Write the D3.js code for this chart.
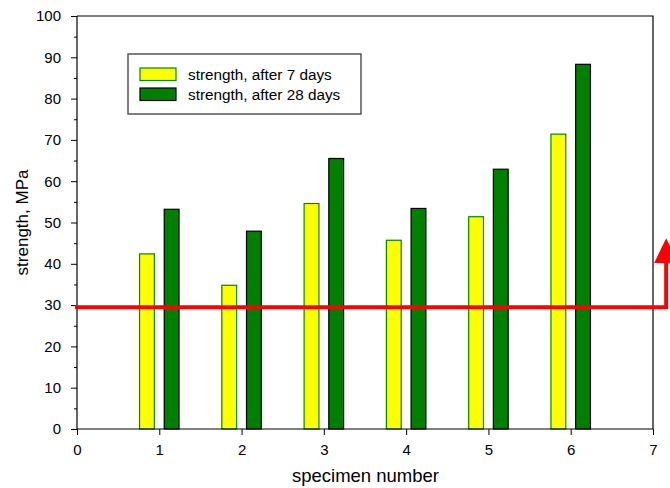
<!DOCTYPE html>
<html>
<head>
<meta charset="utf-8">
<script src="https://cdn.jsdelivr.net/npm/d3@7"></script>
<style>
  html, body { margin: 0; padding: 0; background: #fff; }
  svg { display: block; font-family: "Liberation Sans", Arial, sans-serif; }
</style>
</head>
<body>
<svg id="chart" width="670" height="488"></svg>
<script>
// Specimens and compressive strength (MPa)
const specimens = [1, 2, 3, 4, 5, 6];
const strength7 = [42.4, 34.8, 54.6, 45.7, 51.4, 71.4];
const strength28 = [53.2, 47.9, 65.5, 53.4, 62.9, 88.3];
const seriesNames = ["strength, after 7 days", "strength, after 28 days"];
const xTicks = [0, 1, 2, 3, 4, 5, 6, 7];
const yTicks = [0, 10, 20, 30, 40, 50, 60, 70, 80, 90, 100];
const yMinorTicks = [5, 15, 25, 35, 45, 55, 65, 75, 85, 95];
// Required strength level and the arrow pointing upward from it
const requiredStrength = 29.5;
const arrowX = 7.16;
const arrowShaftTop = 41;
const arrowBase = 40.2;
const arrowTip = 46.2;

const svg = d3.select("#chart");
const W = 670, H = 488;
const margin = { left: 77, right: 17, top: 16, bottom: 59 };

const x = d3.scaleLinear().domain([0, 7]).range([margin.left, W - margin.right]);
const y = d3.scaleLinear().domain([0, 100]).range([H - margin.bottom, margin.top]);

const barW = 0.18;   // bar width in specimen units
const offset = 0.15; // half distance between the two bars of a specimen

const colors = {
  s7: { fill: "#ffff00", stroke: "#008a00" },
  s28: { fill: "#008000", stroke: "#000000" }
};

// Frame (top and right)
svg.append("path")
  .attr("d", `M${x(0)},${y(100)}H${x(7)}V${y(0)}`)
  .attr("fill", "none").attr("stroke", "#000").attr("stroke-width", 1.2);

// Bars
const g = svg.append("g");
g.selectAll("rect.s7").data(specimens).join("rect")
  .attr("class", "s7")
  .attr("x", (d) => x(d - offset - barW / 2))
  .attr("width", x(barW) - x(0))
  .attr("y", (d, i) => y(strength7[i]))
  .attr("height", (d, i) => y(0) - y(strength7[i]))
  .attr("fill", colors.s7.fill).attr("stroke", colors.s7.stroke).attr("stroke-width", 1.2);
g.selectAll("rect.s28").data(specimens).join("rect")
  .attr("class", "s28")
  .attr("x", (d) => x(d + offset - barW / 2))
  .attr("width", x(barW) - x(0))
  .attr("y", (d, i) => y(strength28[i]))
  .attr("height", (d, i) => y(0) - y(strength28[i]))
  .attr("fill", colors.s28.fill).attr("stroke", colors.s28.stroke).attr("stroke-width", 1.2);

// Axes
const xAxis = d3.axisBottom(x).tickValues(xTicks).tickSize(6).tickPadding(9).tickFormat(d3.format("d"));
const yAxis = d3.axisLeft(y).tickValues(yTicks).tickSize(6).tickPadding(10).tickFormat(d3.format("d"));

const gx = svg.append("g").attr("transform", `translate(0,${y(0)})`).call(xAxis);
const gy = svg.append("g").attr("transform", `translate(${x(0)},0)`).call(yAxis);
svg.append("g").attr("transform", `translate(${x(0)},0)`)
  .call(d3.axisLeft(y).tickValues(yMinorTicks).tickSize(3).tickFormat(""))
  .call((s) => s.select(".domain").remove());

[gx, gy].forEach((a) => {
  a.select(".domain").attr("stroke", "#000").attr("stroke-width", 1.2);
  a.selectAll(".tick line").attr("stroke", "#000");
  a.selectAll(".tick text").attr("font-size", 15).attr("fill", "#000")
    .attr("font-family", "Liberation Sans, Arial, sans-serif");
});
gx.select(".domain").attr("d", `M${x(0)},0H${x(7)}`);
gy.select(".domain").attr("d", `M0,${y(0)}V${y(100)}`);

// Axis titles
svg.append("text")
  .attr("x", (x(0) + x(7)) / 2 + 0.5).attr("y", H - 6)
  .attr("text-anchor", "middle").attr("font-size", 18.5)
  .text("specimen number");
svg.append("text")
  .attr("transform", `translate(28,${(y(0) + y(100)) / 2}) rotate(-90)`)
  .attr("text-anchor", "middle").attr("font-size", 17)
  .text("strength, MPa");

// Required-strength line with upward arrow
svg.append("path")
  .attr("d", d3.line()([[x(0), y(requiredStrength)], [x(arrowX), y(requiredStrength)], [x(arrowX), y(arrowShaftTop)]]))
  .attr("fill", "none").attr("stroke", "#ff0000").attr("stroke-width", 4)
  .attr("stroke-linecap", "square");
const headHalf = 12;
svg.append("path")
  .attr("d", `M${x(arrowX)},${y(arrowTip)}L${x(arrowX) + headHalf},${y(arrowBase)}L${x(arrowX) - headHalf},${y(arrowBase)}Z`)
  .attr("fill", "#ff0000");

// Legend
const leg = svg.append("g");
leg.append("rect").attr("x", 128).attr("y", 54).attr("width", 233).attr("height", 60)
  .attr("fill", "#fff").attr("stroke", "#555").attr("stroke-width", 1.5);
const items = [colors.s7, colors.s28];
items.forEach((c, i) => {
  leg.append("rect").attr("x", 140).attr("y", 68 + i * 20).attr("width", 36).attr("height", 12.5)
    .attr("fill", c.fill).attr("stroke", c.stroke).attr("stroke-width", 1.2);
  leg.append("text").attr("x", 188).attr("y", 80 + i * 20).attr("font-size", 15.3)
    .text(seriesNames[i]);
});
</script>
</body>
</html>
